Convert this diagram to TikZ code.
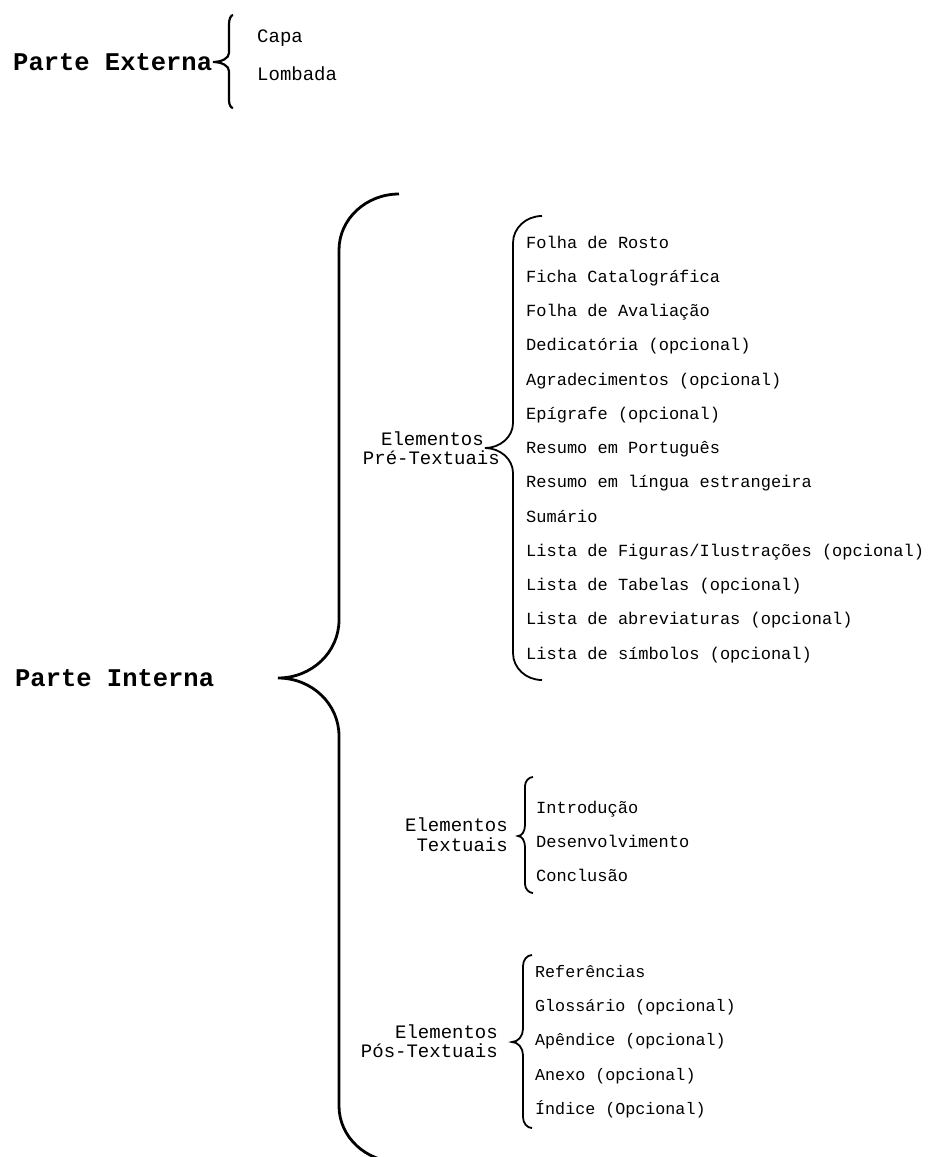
\documentclass[tikz,border=0pt]{standalone}
\usepackage{fontspec}
\setmainfont{Liberation Mono}
\begin{document}
\begin{tikzpicture}[x=1pt,y=-1pt,
  item/.style={anchor=base west, inner sep=0pt, font=\fontsize{17}{20}\selectfont},
  pitem/.style={anchor=base west, inner sep=0pt, font=\fontsize{16.7}{20}\selectfont},
  eitem/.style={anchor=base west, inner sep=0pt, font=\fontsize{19}{22}\selectfont},
  lbl/.style={anchor=base east, inner sep=0pt, font=\fontsize{19}{22}\selectfont},
  parte/.style={anchor=base west, inner sep=0pt, font=\fontsize{25.5}{30}\selectfont\bfseries},
  smallbrace/.style={line width=1.8pt},
  extbrace/.style={line width=2.2pt},
  bigbrace/.style={line width=2.8pt}]
\useasboundingbox (0,0) rectangle (927,1157);
\fill[white] (0,0) rectangle (927,1157);

% Parte Externa
\node[parte] (pext) at (13,70) {Parte Externa};
\draw[extbrace] (233,15) .. controls (231,15) and (229,19) .. (229,24) -- (229,53)
  .. controls (229,58) and (222,62) .. (213,62)
  .. controls (222,62) and (229,66) .. (229,71) -- (229,100)
  .. controls (229,105) and (231,108) .. (233,108);
\node[eitem] (capa) at (257,42) {Capa};
\node[eitem] (lomb) at (257,80) {Lombada};

% Parte Interna
\node[parte] (pint) at (15,686) {Parte Interna};
\draw[bigbrace] (399,194) .. controls (366,194) and (339,219) .. (339,250) -- (339,620)
  .. controls (339,652) and (312,678) .. (278,678)
  .. controls (312,678) and (339,704) .. (339,736) -- (339,1106)
  .. controls (339,1137) and (366,1162) .. (399,1162);

% Pre-textuais
\node[lbl] (pre1) at (484,445) {Elementos};
\node[lbl] (pre2) at (500,464) {Pré-Textuais};
\draw[smallbrace] (542,216) .. controls (526,216) and (513,228) .. (513,243) -- (513,423)
  .. controls (513,437) and (500,448) .. (485,448)
  .. controls (500,448) and (513,459) .. (513,473) -- (513,653)
  .. controls (513,668) and (526,680) .. (542,680);
\foreach \t [count=\i from 0] in {Folha de Rosto,Ficha Catalográfica,Folha de Avaliação,Dedicatória (opcional),Agradecimentos (opcional),Epígrafe (opcional),Resumo em Português,Resumo em língua estrangeira,Sumário,Lista de Figuras/Ilustrações (opcional),Lista de Tabelas (opcional),Lista de abreviaturas (opcional),Lista de símbolos (opcional)}
  \node[item] (pre item \i) at (526,248+34.25*\i) {\t};

% Textuais
\node[lbl] (tex1) at (508,831) {Elementos};
\node[lbl] (tex2) at (508,851) {Textuais};
\draw[smallbrace] (533,777) .. controls (529,777) and (525,781) .. (525,786) -- (525,825)
  .. controls (525,831) and (522,836) .. (518,836)
  .. controls (522,836) and (525,841) .. (525,847) -- (525,884)
  .. controls (525,889) and (529,893) .. (533,893);
\node[item] (intro) at (536,813) {Introdução};
\node[item] (desenv) at (536,847) {Desenvolvimento};
\node[item] (concl) at (536,881) {Conclusão};

% Pos-textuais
\node[lbl] (pos1) at (498,1038) {Elementos};
\node[lbl] (pos2) at (498,1057) {Pós-Textuais};
\draw[smallbrace] (532,955) .. controls (527,955) and (523,960) .. (523,966) -- (523,1029)
  .. controls (523,1036) and (518,1042) .. (512,1042)
  .. controls (518,1042) and (523,1048) .. (523,1055) -- (523,1117)
  .. controls (523,1123) and (527,1128) .. (532,1128);
\node[pitem] (ref) at (535,977) {Referências};
\node[pitem] (glos) at (535,1011) {Glossário (opcional)};
\node[pitem] (apen) at (535,1045) {Apêndice (opcional)};
\node[pitem] (anex) at (535,1080) {Anexo (opcional)};
\node[pitem] (indi) at (535,1114) {Índice (Opcional)};
\end{tikzpicture}
\end{document}
